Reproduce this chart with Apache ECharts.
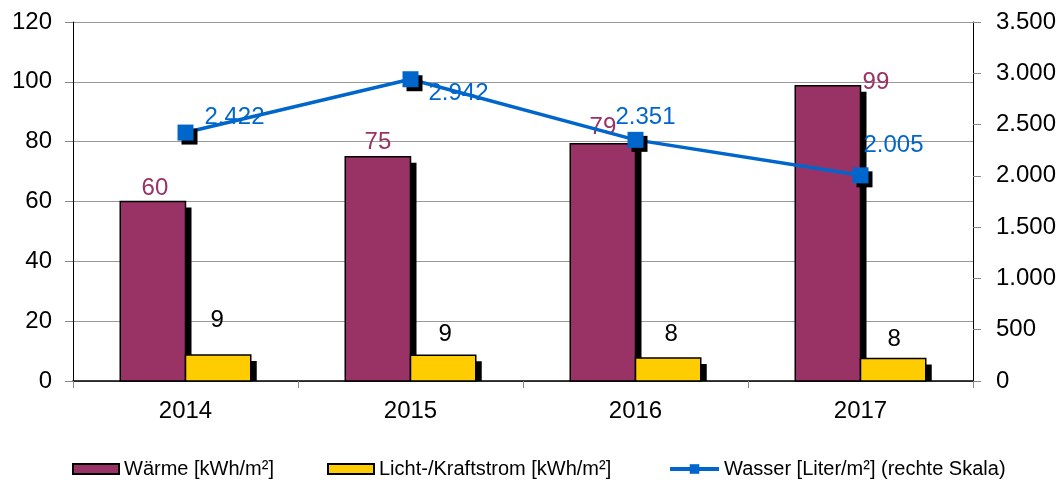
<!DOCTYPE html>
<html>
<head>
<meta charset="utf-8">
<script src="https://cdn.jsdelivr.net/npm/echarts@6/dist/echarts.min.js"></script>
<style>
    html, body { margin: 0; padding: 0; background: #fff; }
    #chart { width: 1063px; height: 480px; }
</style>
</head>
<body>
<div id="chart"></div>
<script>
var years = ['2014', '2015', '2016', '2017'];
var waerme = [60, 75, 79.3, 98.7];
var strom = [8.7, 8.6, 7.7, 7.5];
var wasser = [2422, 2942, 2351, 2005];

// label nudges (px), relative to bar top centre / marker
var waermeNudge = [[2, -13], [0, -14], [0, -16], [48, -3]];
var stromNudge = [[-1, -35], [2, -21], [3, -24], [1, -19]];
var wasserNudge = [[6, -15], [5, 14], [-33, -22], [-10, -30]];

var font = 'Liberation Sans, Arial, sans-serif';
var labelSize = 24;

function deNum(v) {
    return String(Math.round(v)).replace(/\B(?=(\d{3})+(?!\d))/g, '.');
}

// bar with hard black drop shadow, shadow stops at the x axis
function barRenderer(side, fill, textColor, nudge) {
    return function (params, api) {
        var idx = api.value(0);
        var val = api.value(1);
        var top = api.coord([idx, val]);
        var base = api.coord([idx, 0]);
        var w = api.size([1, 0])[0] * 0.29;
        var x = side === 0 ? top[0] - w : top[0];
        var h = base[1] - top[1];
        var n = nudge[params.dataIndex];
        return {
            type: 'group',
            children: [{
                type: 'rect',
                shape: { x: x + 6, y: top[1] + 6, width: w, height: Math.max(h - 6, 0) },
                style: { fill: '#000' }
            }, {
                type: 'rect',
                shape: { x: x, y: top[1], width: w, height: h },
                style: { fill: fill, stroke: '#000', lineWidth: 1.5 }
            }, {
                type: 'text',
                x: x + w / 2 + n[0],
                y: top[1] + n[1],
                style: {
                    text: String(Math.round(val)),
                    fill: textColor,
                    font: labelSize + 'px ' + font,
                    align: 'center',
                    verticalAlign: 'middle'
                }
            }]
        };
    };
}

var myChart = echarts.init(document.getElementById('chart'));
var legendText = { fontSize: 20, color: '#000', fontFamily: font };
var option = {
    animation: false,
    textStyle: { fontFamily: font },
    grid: { left: 73, right: 90, top: 22, bottom: 99 },
    legend: [{
        left: 67, top: 454, itemWidth: 46, itemHeight: 10, itemGap: 6,
        textStyle: legendText,
        data: [{ name: 'Wärme [kWh/m²]', icon: 'rect', itemStyle: { borderWidth: 2 } }]
    }, {
        left: 322, top: 454, itemWidth: 46, itemHeight: 10, itemGap: 6,
        textStyle: legendText,
        data: [{ name: 'Licht-/Kraftstrom [kWh/m²]', icon: 'rect', itemStyle: { borderWidth: 2 } }]
    }, {
        left: 663, top: 454, itemWidth: 49, itemHeight: 12, itemGap: 6,
        textStyle: legendText,
        data: [{ name: 'Wasser [Liter/m²] (rechte Skala)', lineStyle: { width: 4 } }]
    }],
    xAxis: {
        type: 'category',
        data: years,
        axisLine: { lineStyle: { color: '#000', width: 1.5 } },
        axisTick: { show: true, length: 7, lineStyle: { color: '#888' } },
        axisLabel: { fontSize: labelSize, color: '#000', margin: 18 }
    },
    yAxis: [{
        type: 'value',
        min: 0,
        max: 120,
        interval: 20,
        axisLine: { show: true, lineStyle: { color: '#000' } },
        axisTick: { show: true, length: 8, lineStyle: { color: '#888' } },
        splitLine: { lineStyle: { color: '#999' } },
        axisLabel: { fontSize: labelSize, color: '#000', margin: 21 }
    }, {
        type: 'value',
        min: 0,
        max: 3500,
        interval: 500,
        position: 'right',
        axisLine: { show: true, lineStyle: { color: '#000' } },
        axisTick: { show: true, length: 8, lineStyle: { color: '#888' } },
        splitLine: { show: false },
        axisLabel: { fontSize: labelSize, color: '#000', margin: 23, formatter: deNum }
    }],
    series: [{
        name: 'Wärme [kWh/m²]',
        type: 'custom',
        renderItem: barRenderer(0, '#993366', '#993366', waermeNudge),
        encode: { x: 0, y: 1 },
        itemStyle: { color: '#993366', borderColor: '#000', borderWidth: 1.5 },
        data: waerme.map(function (v, i) { return [i, v]; })
    }, {
        name: 'Licht-/Kraftstrom [kWh/m²]',
        type: 'custom',
        renderItem: barRenderer(1, '#FFCC00', '#000', stromNudge),
        encode: { x: 0, y: 1 },
        itemStyle: { color: '#FFCC00', borderColor: '#000', borderWidth: 1.5 },
        data: strom.map(function (v, i) { return [i, v]; })
    }, {
        name: 'Wasser [Liter/m²] (rechte Skala)',
        type: 'line',
        yAxisIndex: 1,
        symbol: 'rect',
        symbolSize: 16,
        z: 5,
        data: wasser.map(function (v, i) {
            return { value: v, label: { offset: wasserNudge[i] } };
        }),
        lineStyle: { color: '#0066CC', width: 3.5 },
        itemStyle: { color: '#0066CC', shadowColor: '#000', shadowBlur: 0, shadowOffsetX: 4, shadowOffsetY: 4 },
        label: {
            show: true,
            position: 'right',
            fontSize: labelSize,
            color: '#0066CC',
            formatter: function (p) { return deNum(p.value); }
        }
    }]
};
if (option && typeof option === "object") {
    myChart.setOption(option, true);
}
</script>
</body>
</html>
